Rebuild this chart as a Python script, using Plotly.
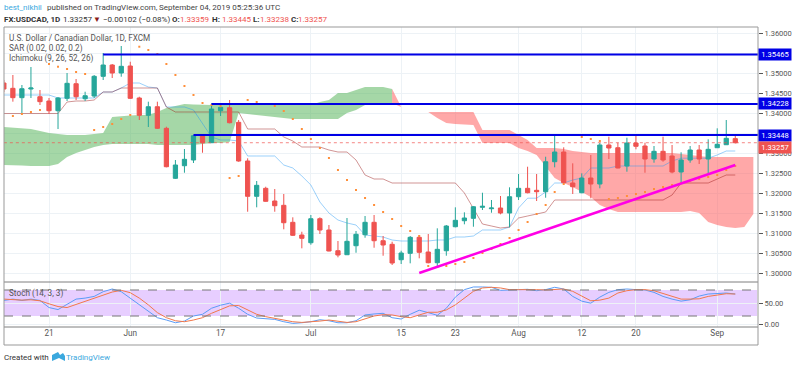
import plotly.graph_objects as go

# ---------- data: bar numbers are trading days, 0 = 21 May 2019 ----------
bars = list(range(-5, 77))
open_ = [1.3475,1.34617,1.34383,1.346,1.34407,1.343,1.34057,1.34367,1.34732,1.34357,
         1.34425,1.34917,1.352,1.35,1.35175,1.34375,1.33942,1.34157,1.33617,1.32367,
         1.32682,1.32825,1.33432,1.33257,1.34057,1.34132,1.33767,1.328,1.31917,1.32117,
         1.318,1.31692,1.31267,1.3095,1.30757,1.31357,1.31075,1.30557,1.30457,1.30682,
         1.30957,1.31267,1.30807,1.30717,1.30332,1.30492,1.30892,1.30525,1.30257,1.30557,
         1.31157,1.31307,1.31367,1.31642,1.31607,1.31625,1.315,1.31907,1.32117,1.32067,
         1.32032,1.32782,1.33025,1.3225,1.32007,1.32375,1.32225,1.332,1.33132,1.32675,
         1.3325,1.33175,1.3285,1.33042,1.32925,1.32525,1.32825,1.33075,1.3285,1.33132,
         1.33207,1.33359]
close = [1.346,1.34383,1.34607,1.34625,1.34283,1.34057,1.34375,1.34742,1.34407,1.34432,
         1.34917,1.352,1.35,1.35167,1.34367,1.33942,1.34157,1.33617,1.32657,1.327,
         1.32842,1.33432,1.33257,1.341,1.34142,1.33757,1.328,1.31917,1.32192,1.31792,
         1.31682,1.31257,1.30942,1.30867,1.31357,1.31075,1.3055,1.3045,1.30792,1.30967,
         1.31267,1.30807,1.307,1.3025,1.305,1.30892,1.30517,1.30257,1.30592,1.31175,
         1.31317,1.31375,1.31657,1.31667,1.31625,1.315,1.31907,1.32117,1.32007,1.32032,
         1.32782,1.33025,1.32257,1.32157,1.32375,1.32225,1.332,1.33125,1.32625,1.3325,
         1.33167,1.3285,1.33042,1.32825,1.32525,1.32825,1.33075,1.3285,1.33092,1.33217,
         1.33367,1.33257]
high = [1.34825,1.3495,1.347,1.3515,1.34575,1.34375,1.344,1.35,1.3485,1.34532,
        1.3495,1.355,1.35225,1.35675,1.35282,1.34407,1.34283,1.34283,1.33657,1.32825,
        1.331,1.3345,1.33467,1.34242,1.342,1.34325,1.33825,1.32867,1.323,1.32157,
        1.321,1.31975,1.31392,1.31032,1.3145,1.31392,1.312,1.308,1.31375,1.3105,
        1.31425,1.3145,1.30925,1.30782,1.30557,1.30925,1.3095,1.30975,1.31117,1.312,
        1.31642,1.31517,1.31675,1.32007,1.31825,1.31925,1.32142,1.32475,1.32657,1.32475,
        1.32907,1.3345,1.33142,1.32742,1.32492,1.3295,1.3325,1.33407,1.33257,1.33382,
        1.33475,1.33257,1.33175,1.33407,1.332,1.33017,1.33175,1.332,1.33342,1.33617,
        1.33825,1.33445]
low = [1.34525,1.34283,1.33975,1.34375,1.342,1.33975,1.336,1.343,1.34325,1.343,
       1.34375,1.34825,1.34875,1.34907,1.3435,1.33825,1.3365,1.336,1.32642,1.3235,
       1.32507,1.3275,1.33007,1.3325,1.33925,1.33742,1.32782,1.31532,1.31642,1.31782,
       1.31532,1.31092,1.30925,1.30617,1.30707,1.30975,1.30542,1.30392,1.30457,1.30507,
       1.30882,1.30632,1.30432,1.302,1.30225,1.30242,1.30367,1.30242,1.30175,1.30432,
       1.31142,1.31217,1.31157,1.31575,1.31507,1.31467,1.31142,1.31825,1.31992,1.318,
       1.31882,1.32642,1.32242,1.31975,1.31992,1.31867,1.32117,1.3285,1.32617,1.32532,
       1.33092,1.32507,1.32757,1.32782,1.32492,1.32242,1.32757,1.32725,1.32492,1.33132,
       1.33207,1.33238]

green_bars = list(range(-5, 39))
green_upper = [1.3365,1.33637,1.33625,1.336,1.3355,1.335,1.33475,1.3345,1.3345,1.3345,
               1.33475,1.335,1.339,1.33925,1.33937,1.3395,1.3395,1.34025,1.34125,1.34175,
               1.34225,1.34212,1.342,1.342,1.342,1.342,1.342,1.342,1.342,1.342,
               1.342,1.342,1.342,1.342,1.342,1.34275,1.34325,1.345,1.345,1.34575,
               1.3465,1.3465,1.3465,1.346]
green_lower = [1.327,1.327,1.32687,1.32675,1.32675,1.32675,1.32725,1.329,1.33,1.33075,
               1.3315,1.332,1.33225,1.33225,1.33225,1.33225,1.33225,1.332,1.332,1.332,
               1.332,1.332,1.33225,1.3325,1.3325,1.33275,1.34,1.33975,1.3395,1.33925,
               1.339,1.33875,1.3385,1.3385,1.3385,1.3385,1.3385,1.3385,1.34,1.34075,
               1.342,1.342,1.34225,1.3425]
red_bars = list(range(38, 79))
red_upper = [1.346,1.3415,1.34125,1.34075,1.34025,1.34025,1.34025,1.34025,1.34025,1.34025,
             1.33575,1.33575,1.33575,1.33575,1.3345,1.33325,1.33125,1.33125,1.33125,1.331,
             1.3305,1.33025,1.33,1.33,1.33,1.33,1.33,1.33,1.33,1.33,
             1.33,1.33,1.32975,1.3295,1.32925,1.329,1.329,1.329,1.329,1.329,1.329]
red_lower = [1.3425,1.3415,1.34125,1.34075,1.34025,1.33875,1.3375,1.33725,1.33712,1.337,
             1.3325,1.3325,1.3325,1.3325,1.33125,1.3305,1.3295,1.3265,1.32375,1.3225,
             1.3215,1.32025,1.319,1.317,1.316,1.31525,1.31525,1.31525,1.31525,1.31525,
             1.31525,1.31525,1.31525,1.3155,1.315,1.31275,1.312,1.3115,1.31125,1.3115,1.31475]

tenkan = [1.3445,1.3445,1.3445,1.3445,1.3445,1.3445,1.34375,1.34375,1.34375,1.34375,
          1.34375,1.34525,1.34525,1.34625,1.3475,1.3475,1.3465,1.34625,1.3415,1.3415,
          1.3415,1.34075,1.3375,1.334,1.33325,1.33325,1.333,1.32925,1.32925,1.32925,
          1.32925,1.327,1.32625,1.32425,1.322,1.31775,1.315,1.31325,1.3125,1.312,
          1.3095,1.30925,1.309,1.30825,1.308,1.308,1.308,1.308,1.30825,1.30825,
          1.309,1.309,1.30925,1.31075,1.31075,1.31075,1.3115,1.31625,1.3187,1.3187,
          1.32025,1.3225,1.3225,1.32325,1.32375,1.32625,1.32625,1.32625,1.32675,1.32675,
          1.32675,1.32675,1.32675,1.32675,1.328,1.3287,1.3287,1.3287,1.3287,1.3295,
          1.3305,1.3305]
kijun = [1.33987,1.33987,1.33987,1.33987,1.33987,1.33987,1.33987,1.34275,1.343,1.343,
         1.34325,1.34525,1.34525,1.34625,1.34625,1.34625,1.34625,1.34625,1.3415,1.34025,
         1.34025,1.34025,1.34025,1.34025,1.34025,1.34025,1.34025,1.336,1.336,1.336,
         1.336,1.334,1.333,1.3315,1.3315,1.3315,1.33075,1.33025,1.33025,1.32825,
         1.3245,1.3235,1.3235,1.3225,1.3225,1.3225,1.3225,1.3225,1.3225,1.3225,
         1.3225,1.32,1.31625,1.31225,1.31175,1.31125,1.3115,1.31375,1.31425,1.31475,
         1.31525,1.31825,1.31825,1.31825,1.31825,1.31825,1.31825,1.31825,1.31825,1.31825,
         1.31825,1.31825,1.31825,1.31825,1.3195,1.3225,1.3225,1.3225,1.3225,1.3235,
         1.3245,1.3245]
sar_bars = list(range(-4, 77))
sar = [1.33925,1.33975,1.34025,1.34075,1.35225,1.35157,1.351,1.35025,1.34975,
       1.33575,1.3365,1.33725,1.3385,1.3395,1.35657,1.35575,1.35475,1.35225,1.3495,
       1.34675,1.3445,1.3425,1.342,1.3417,1.32375,1.32425,1.34325,1.34275,1.34225,
       1.34175,1.3405,1.3385,1.336,1.3335,1.33125,1.32875,1.32575,1.32325,1.32075,
       1.31875,1.317,1.31525,1.3135,1.31175,1.3105,1.30925,1.30175,1.3015,1.30175,
       1.30225,1.30275,1.30375,1.305,1.306,1.30725,1.30875,1.31075,1.31275,1.31475,
       1.317,1.32025,1.32225,1.3345,1.334,1.3335,1.333,1.3185,1.31875,1.31925,
       1.31975,1.32025,1.321,1.3215,1.322,1.3225,1.323,1.3235,1.324,1.3245,1.32575,1.32675]

stoch_k = [55.9,59,55.9,59,55.9,39.5,34.8,47.3,59,61.3,
           65.2,76.1,82.3,76.1,61.3,45.7,30.1,16.1,10.7,4.4,
           8.3,20,23.9,37.9,44.9,49.6,37.9,23.9,15.3,14.6,
           12.2,6.8,2.9,4.4,6.8,11.4,9.1,4.4,4.4,9.1,
           22.4,24.7,26.2,16.1,13,23.9,33.3,27.8,21.6,37.9,
           63.6,80.8,87,87,86.2,79.2,80.8,80.8,81.6,78.4,
           80.8,86.2,82.3,65.2,54.3,49.6,63.6,74.5,80.8,82.3,
           80.8,80,74.5,65.2,59,54.3,57.4,66,70.7,71.4,
           73,70.7]
stoch_d = [59,57.4,56.6,57.4,55.1,48.1,41.8,39.5,46.5,53.5,
           61.3,69.1,75.3,79.2,73.8,61.3,45.7,27.8,16.1,9.1,
           6.8,10.7,16.1,26.2,35.6,43.4,44.2,34,23.9,18.5,
           14.6,10.7,6.8,5.2,6,8.3,10.7,7.6,5.2,6.8,
           13,20,23.1,22.4,18.5,16.1,22.4,28.6,28.6,34,
           45.7,61.3,76.9,84.7,86.2,84.7,80.8,80.8,81.6,80.8,
           80,80.8,82.3,76.9,65.2,55.1,56.6,61.3,73,78.4,
           80.8,80.8,78.4,71.4,65.2,59,59,59.7,65.2,69.1,
           71.4,70.7]

assert all(len(a) == len(bars) for a in (open_, close, high, low, tenkan, kijun, stoch_k, stoch_d))
assert len(sar) == len(sar_bars) and len(green_upper) == len(green_bars) == len(green_lower)
assert len(red_upper) == len(red_bars) == len(red_lower)

level_prices = [1.35465, 1.34228, 1.33448]
level_starts = [6, 18, 16]
last_price = 1.33257
trend_bars = [41, 76]
trend_prices = [1.3, 1.327]
stoch_levels = [20, 80]

tick_bars = [0, 9, 19, 29, 39, 45, 52, 59, 65, 74]
tick_labels = ["21", "Jun", "17", "Jul", "15", "23", "Aug", "12", "20", "Sep"]
price_ticks = [1.30, 1.305, 1.31, 1.315, 1.32, 1.325, 1.33, 1.335, 1.34, 1.345, 1.35, 1.355, 1.36]
price_labels = ["1.30000", "1.30500", "1.31000", "1.31500", "1.32000", "1.32500", "1.33000", "",
                "1.34000", "1.34500", "1.35000", "", "1.36000"]
stoch_ticks = [0, 50]

# ---------- styling ----------
L, R, T, B = 4, 758, 27, 345
W, H = 800, 368
SPLIT, AXIS = 282, 327
GRID = "#edf2f6"
TXT = "#555555"
UP, DOWN = "#26a69a", "#ef5350"
LOGO = "#3ba8de"
FONT = "Roboto"
def px(x): return (x - L) / (R - L)
def py(y): return (B - y) / (B - T)

fig = go.Figure()

# cloud, on the base axes so candles stay above it
fig.add_trace(go.Scatter(x=green_bars, y=green_upper, mode="lines", line=dict(width=0), hoverinfo="skip", showlegend=False))
fig.add_trace(go.Scatter(x=green_bars, y=green_lower, mode="lines", line=dict(width=0), fill="tonexty",
                         fillcolor="rgba(76,175,80,0.5)", hoverinfo="skip", showlegend=False))
fig.add_trace(go.Scatter(x=red_bars, y=red_upper, mode="lines", line=dict(width=0), hoverinfo="skip", showlegend=False))
fig.add_trace(go.Scatter(x=red_bars, y=red_lower, mode="lines", line=dict(width=0), fill="tonexty",
                         fillcolor="rgba(255,82,82,0.5)", hoverinfo="skip", showlegend=False))
fig.add_trace(go.Scatter(x=bars, y=tenkan, mode="lines", line=dict(color="rgba(33,150,243,0.45)", width=1), showlegend=False))
fig.add_trace(go.Scatter(x=bars, y=kijun, mode="lines", line=dict(color="rgba(153,21,21,0.45)", width=1), showlegend=False))

# candles and drawings on an overlay axis
fig.add_trace(go.Candlestick(x=bars, open=open_, high=high, low=low, close=close, yaxis="y3", whiskerwidth=0,
                             increasing=dict(line=dict(color=UP, width=1), fillcolor=UP),
                             decreasing=dict(line=dict(color=DOWN, width=1), fillcolor=DOWN),
                             showlegend=False))
fig.add_trace(go.Scatter(x=sar_bars, y=sar, mode="markers", yaxis="y3", showlegend=False,
                         marker=dict(symbol="square", size=2, color="#ff8f3a", line=dict(width=0))))
fig.add_trace(go.Scatter(x=[bars[0], 78.6], y=[last_price, last_price], mode="lines", yaxis="y3", showlegend=False,
                         line=dict(color="rgba(239,83,80,0.7)", width=1, dash="dot")))
for p, s in zip(level_prices, level_starts):
    fig.add_trace(go.Scatter(x=[s, 78.6], y=[p, p], mode="lines", yaxis="y3", showlegend=False,
                             line=dict(color="#0000e6", width=2)))
fig.add_trace(go.Scatter(x=trend_bars, y=trend_prices, mode="lines", yaxis="y3", showlegend=False,
                         line=dict(color="#ff00e6", width=2.5)))

# stochastic pane
fig.add_trace(go.Scatter(x=bars, y=stoch_k, mode="lines", yaxis="y2", showlegend=False,
                         line=dict(color="#5b9cf6", width=1)))
fig.add_trace(go.Scatter(x=bars, y=stoch_d, mode="lines", yaxis="y2", showlegend=False,
                         line=dict(color="#f2784b", width=1)))

shapes = [
    dict(type="rect", xref="paper", yref="y2", x0=0, x1=px(757), y0=stoch_levels[0], y1=stoch_levels[1],
         fillcolor="rgba(153,51,255,0.24)", line=dict(width=0), layer="below"),
]
for lv in stoch_levels:
    shapes.append(dict(type="line", xref="paper", yref="y2", x0=0, x1=px(757), y0=lv, y1=lv,
                       line=dict(color="#777777", width=1, dash="dash")))
shapes += [
    dict(type="line", xref="paper", yref="paper", x0=0, x1=1, y0=py(SPLIT), y1=py(SPLIT), line=dict(color="#7f7f7f", width=1)),
    dict(type="line", xref="paper", yref="paper", x0=0, x1=1, y0=py(AXIS), y1=py(AXIS), line=dict(color="#7f7f7f", width=1)),
    dict(type="rect", xref="paper", yref="paper", x0=0, x1=1, y0=0, y1=1, line=dict(color="#999999", width=1)),
    # TradingView logo in the footer
    dict(type="path", xref="paper", yref="paper", fillcolor=LOGO, line=dict(width=0),
         path="M {} {} L {} {} L {} {} L {} {} L {} {} L {} {} L {} {} L {} {} Z".format(
             px(52), py(361), px(52), py(355), px(58), py(352), px(60), py(355), px(63), py(353),
             px(65), py(356), px(65), py(361), px(59), py(358))),
]

def note(x, y, text, size=8.0, color=TXT, bold=False):
    return dict(xref="paper", yref="paper", x=px(x), y=py(y), text=f"<b>{text}</b>" if bold else text, showarrow=False,
                xanchor="left", yanchor="middle", font=dict(family=FONT, size=size, color=color), align="left",
                borderpad=0, borderwidth=0)

def tag(price, text, color, ypx=None):
    base = dict(x=1, xref="paper", text=text, showarrow=False, xanchor="left", yanchor="middle", width=32, height=11,
                bgcolor=color, borderpad=0, font=dict(family=FONT, size=7.6, color="white"))
    if ypx:
        base.update(yref="paper", y=py(ypx))
    else:
        base.update(yref="y", y=price)
    return base

DARK = "#333333"
annotations = [
    note(4, 8, "best_nikhil", color=LOGO),
    note(47, 8, "published on TradingView.com,", color="#444444"),
    note(159, 8, "September 04, 2019 05:25:36 UTC", color="#444444"),
    note(4, 19, "FX:USDCAD, 1D", color=DARK, bold=True),
    note(63, 19, "1.33257", color=DARK),
    note(93, 19, "▼", color="#8b1a1a"),
    note(103, 19, "−0.00102 (−0.08%)", color=DARK),
    note(172, 19, "O:", color=DARK, bold=True), note(180, 19, "1.33359", color=DOWN),
    note(212, 19, "H:", color=DARK, bold=True), note(222, 19, "1.33445", color=DOWN),
    note(253, 19, "L:", color=DARK, bold=True), note(260, 19, "1.33238", color=DOWN),
    note(291, 19, "C:", color=DARK, bold=True), note(298, 19, "1.33257", color=DOWN),
    note(9, 38, "U.S. Dollar / Canadian Dollar, 1D, FXCM", size=8.2),
    note(9, 48.5, "SAR (0.02, 0.02, 0.2)", size=8.2),
    note(9, 59, "Ichimoku (9, 26, 52, 26)", size=8.2),
    note(9, 293, "Stoch (14, 3, 3)", size=8.2),
    note(4, 357, "Created with", color=DARK),
    note(66, 357, "TradingView", color=LOGO),
    tag(level_prices[0], f"{level_prices[0]:.5f}", "#0000e6"),
    tag(level_prices[1], f"{level_prices[1]:.5f}", "#0000e6"),
    tag(level_prices[2], f"{level_prices[2]:.5f}", "#0000e6"),
    tag(last_price, f"{last_price:.5f}", DOWN, ypx=147),
]

price_range = [1.36825 - AXIS_Y / 4000 for AXIS_Y in (SPLIT, T)]
stoch_range = [80 - (AXIS - 290) * 60 / 26, 80 + (290 - SPLIT) * 60 / 26]
x_range = [(L - 49) / 9.03, (R - 49) / 9.03]
xfont = dict(family=FONT, size=8.2, color=TXT)
yfont = dict(family=FONT, size=7.5, color=TXT)

fig.update_layout(
    width=W, height=H, autosize=False,
    margin=dict(l=L, r=W - R, t=T, b=H - B),
    paper_bgcolor="white", plot_bgcolor="white",
    font=dict(family=FONT, size=8, color=TXT),
    boxgap=0.33, hovermode=False, showlegend=False,
    shapes=shapes, annotations=annotations,
    xaxis=dict(domain=[0, 1], anchor="y2", range=x_range, tickmode="array", tickvals=tick_bars, ticktext=tick_labels,
               showgrid=True, gridcolor=GRID, gridwidth=1, zeroline=False, rangeslider=dict(visible=False),
               ticks="", tickfont=xfont, showline=False),
    yaxis=dict(domain=[py(SPLIT), 1], anchor="x", side="right", range=price_range, tickmode="array", tickvals=price_ticks,
               ticktext=price_labels, showgrid=True, gridcolor=GRID, gridwidth=1, zeroline=False, ticks="outside", ticklen=4,
               tickcolor=TXT, tickfont=yfont, showline=False),
    yaxis2=dict(domain=[py(AXIS), py(SPLIT)], anchor="x", side="right", range=stoch_range, tickmode="array", tickvals=stoch_ticks,
                tickformat=".2f", showgrid=True, gridcolor=GRID, gridwidth=1, zeroline=False, ticks="outside", ticklen=4,
                tickcolor=TXT, tickfont=yfont, showline=False),
    yaxis3=dict(overlaying="y", matches="y", side="right", visible=False, anchor="x"),
)

fig.write_html("out.html", config=dict(displayModeBar=False),
               post_script="document.body.style.margin='0';document.body.style.overflow='hidden';")
